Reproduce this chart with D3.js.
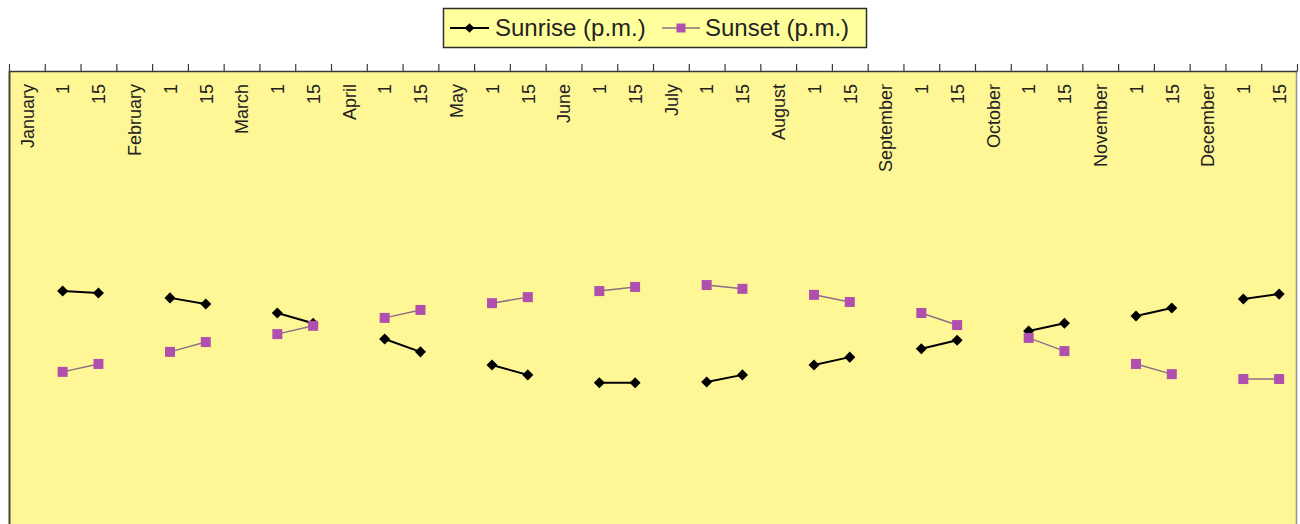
<!DOCTYPE html>
<html>
<head>
<meta charset="utf-8">
<script src="https://cdn.jsdelivr.net/npm/d3@7"></script>
<style>
  html, body { margin: 0; padding: 0; background: #ffffff; }
  svg { display: block; }
</style>
</head>
<body>
<svg id="chart" width="1300" height="524"></svg>
<script>
// ---- data ----
const categories = [
  "January", "1", "15", "February", "1", "15", "March", "1", "15",
  "April", "1", "15", "May", "1", "15", "June", "1", "15",
  "July", "1", "15", "August", "1", "15", "September", "1", "15",
  "October", "1", "15", "November", "1", "15", "December", "1", "15"
];
const sunrise = [
  null, 6.17, 6.12, null, 5.99, 5.83, null, 5.59, 5.32,
  null, 4.90, 4.56, null, 4.21, 3.95, null, 3.74, 3.74,
  null, 3.76, 3.95, null, 4.21, 4.42, null, 4.64, 4.87,
  null, 5.11, 5.32, null, 5.51, 5.72, null, 5.96, 6.09
];
const sunset = [
  null, 4.03, 4.24, null, 4.56, 4.82, null, 5.03, 5.25,
  null, 5.46, 5.67, null, 5.85, 6.01, null, 6.17, 6.28,
  null, 6.33, 6.23, null, 6.07, 5.88, null, 5.59, 5.27,
  null, 4.93, 4.58, null, 4.24, 3.97, null, 3.84, 3.84
];
const seriesNames = ["Sunrise (p.m.)", "Sunset (p.m.)"];
const yDomain = [0, 12];

// ---- layout ----
const svg = d3.select("#chart");
const plot = { left: 9, right: 1297, top: 71, bottom: 524 };
const plotBg = "#fff796";
const sunriseColor = "#000000";
const sunsetMarker = "#b04fae";
const sunsetLine = "#8f6f86";
const textColor = "#222222";

const x = d3.scaleLinear().domain([0, categories.length]).range([plot.left, plot.right]);
const y = d3.scaleLinear().domain(yDomain).range([plot.bottom, plot.top]);

// plot area
svg.append("rect")
  .attr("x", plot.left).attr("y", plot.top)
  .attr("width", plot.right - plot.left).attr("height", plot.bottom - plot.top)
  .attr("fill", plotBg);
svg.append("line").attr("x1", plot.left + 0.5).attr("x2", plot.left + 0.5)
  .attr("y1", plot.top).attr("y2", plot.bottom)
  .attr("stroke", "#4a4535").attr("stroke-width", 2);
svg.append("line").attr("x1", plot.right - 0.5).attr("x2", plot.right - 0.5)
  .attr("y1", plot.top).attr("y2", plot.bottom)
  .attr("stroke", "#9a968a").attr("stroke-width", 1.5);

// top axis: ticks between categories
const tickAxis = d3.axisTop(x)
  .tickValues(d3.range(0, categories.length + 1))
  .tickFormat("")
  .tickSizeInner(7).tickSizeOuter(0);
const gTicks = svg.append("g").attr("transform", `translate(0,${plot.top})`).call(tickAxis);
gTicks.select(".domain").attr("stroke", "#3a3a3a").attr("stroke-width", 1.5);
gTicks.selectAll(".tick line").attr("stroke", "#3a3a3a").attr("stroke-width", 1.2);

// category labels (rotated, inside plot area)
const labelAxis = d3.axisTop(x)
  .tickValues(d3.range(categories.length).map(i => i + 0.5))
  .tickFormat(v => categories[Math.floor(v)])
  .tickSize(0);
const gLabels = svg.append("g").attr("transform", `translate(0,${plot.top})`).call(labelAxis);
gLabels.select(".domain").remove();
gLabels.selectAll(".tick text")
  .attr("transform", "rotate(-90)")
  .attr("x", -13).attr("y", 0).attr("dy", "0.35em")
  .attr("text-anchor", "end")
  .attr("font-family", "'Liberation Sans', Arial, sans-serif")
  .attr("font-size", 18)
  .attr("fill", textColor);

// series
const cx = i => x(i + 0.5);
const line = d3.line()
  .defined(d => d.v !== null)
  .x(d => cx(d.i))
  .y(d => y(d.v));

const sunriseData = sunrise.map((v, i) => ({ i, v }));
const sunsetData = sunset.map((v, i) => ({ i, v }));

svg.append("path").datum(sunsetData)
  .attr("d", line).attr("fill", "none")
  .attr("stroke", sunsetLine).attr("stroke-width", 1.5);
svg.append("path").datum(sunriseData)
  .attr("d", line).attr("fill", "none")
  .attr("stroke", sunriseColor).attr("stroke-width", 2);

const diamond = d3.symbol().type(d3.symbolDiamond2).size(78);
svg.append("g").selectAll("path")
  .data(sunriseData.filter(d => d.v !== null))
  .join("path")
  .attr("transform", d => `translate(${cx(d.i)},${y(d.v)})`)
  .attr("d", diamond)
  .attr("fill", sunriseColor);

const sq = 10;
svg.append("g").selectAll("rect")
  .data(sunsetData.filter(d => d.v !== null))
  .join("rect")
  .attr("x", d => cx(d.i) - sq / 2).attr("y", d => y(d.v) - sq / 2)
  .attr("width", sq).attr("height", sq)
  .attr("fill", sunsetMarker);

// legend
const legend = svg.append("g");
legend.append("rect")
  .attr("x", 443.5).attr("y", 8.5).attr("width", 423).attr("height", 39)
  .attr("fill", "#ffff9c").attr("stroke", "#2e2e2e").attr("stroke-width", 1.5);
// sunrise item
legend.append("line").attr("x1", 450).attr("x2", 489).attr("y1", 28).attr("y2", 28)
  .attr("stroke", sunriseColor).attr("stroke-width", 2);
legend.append("path").attr("transform", "translate(469.5,28)")
  .attr("d", d3.symbol().type(d3.symbolDiamond2).size(60)).attr("fill", sunriseColor);
legend.append("text").attr("x", 495).attr("y", 36)
  .attr("font-family", "'Liberation Sans', Arial, sans-serif").attr("font-size", 24)
  .attr("fill", textColor).text(seriesNames[0]);
// sunset item
legend.append("line").attr("x1", 662).attr("x2", 700).attr("y1", 28).attr("y2", 28)
  .attr("stroke", sunsetLine).attr("stroke-width", 1.5);
legend.append("rect").attr("x", 681 - 4.5).attr("y", 28 - 4.5).attr("width", 9).attr("height", 9)
  .attr("fill", sunsetMarker);
legend.append("text").attr("x", 705).attr("y", 36)
  .attr("font-family", "'Liberation Sans', Arial, sans-serif").attr("font-size", 24)
  .attr("fill", textColor).text(seriesNames[1]);
</script>
</body>
</html>
